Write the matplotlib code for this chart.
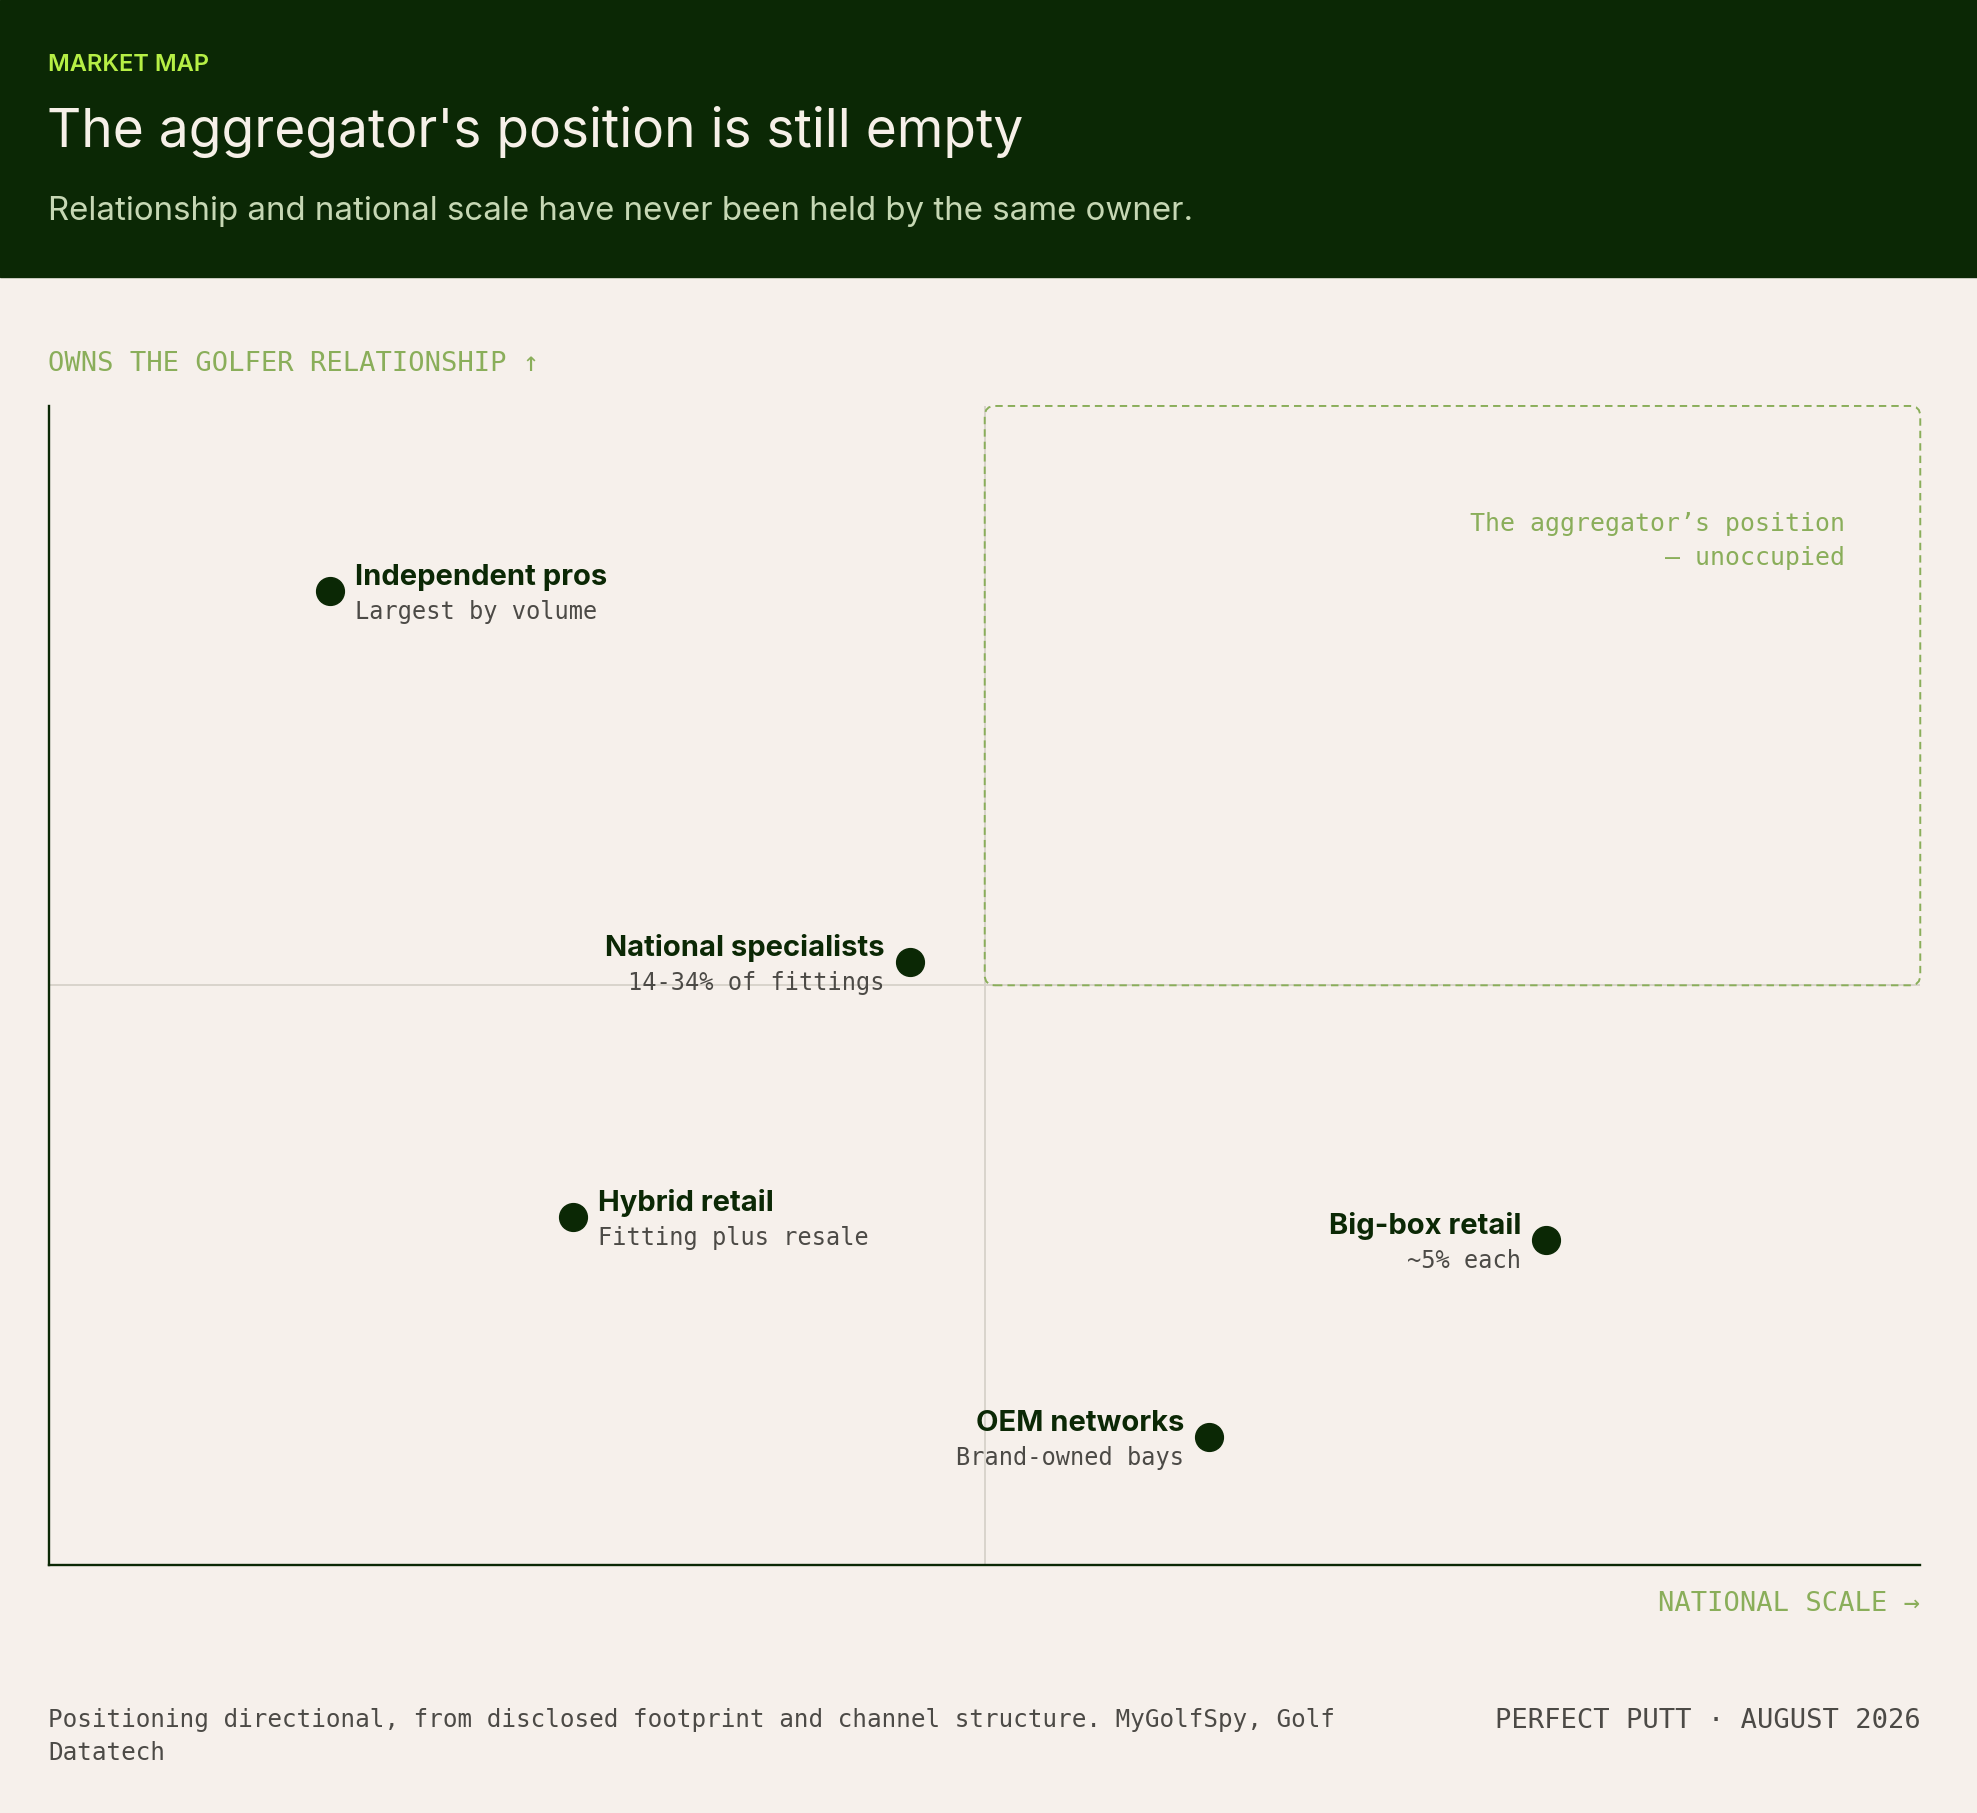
import matplotlib
matplotlib.use("Agg")
import matplotlib.pyplot as plt
from matplotlib.patches import FancyBboxPatch, Rectangle

# market positions (0-100 on both axes)
players = ["Independent pros", "National specialists", "Hybrid retail", "Big-box retail", "OEM networks"]
notes = ["Largest by volume", "14-34% of fittings", "Fitting plus resale", "~5% each", "Brand-owned bays"]
national_scale = [15, 46, 28, 80, 62]
relationship = [84, 52, 30, 28, 11]
label_side = ["right", "left", "right", "left", "left"]

kicker = "MARKET MAP"
title = "The aggregator's position is still empty"
subtitle = "Relationship and national scale have never been held by the same owner."
y_label = "OWNS THE GOLFER RELATIONSHIP ↑"
x_label = "NATIONAL SCALE →"
empty_note = "The aggregator’s position\n— unoccupied"
source = "Positioning directional, from disclosed footprint and channel structure. MyGolfSpy, Golf\nDatatech"
credit = "PERFECT PUTT · AUGUST 2026"

BG = "#f6f0eb"
DARK = "#0b2805"
LIME = "#b6ef45"
CREAM = "#f6f0e8"
SUBTLE = "#c6d7b4"
GREEN = "#8aae5a"
GREY = "#4c4a46"
MID = "#d6d1c9"
SANS = ["Inter", "DejaVu Sans"]
MONO = ["DejaVu Sans Mono"]

fig = plt.figure(figsize=(19.77, 18.13), dpi=100, facecolor=BG)


def fx(px):
    return px / 1568


def fy(py):
    return 1 - py / 1438


# header band
fig.patches.append(Rectangle((0, fy(220)), 1, 220 / 1438, transform=fig.transFigure,
                             color=DARK, zorder=0))
fig.text(fx(38), fy(56.3), kicker, color=LIME, fontsize=17, fontweight="semibold",
         family=SANS, va="baseline")
fig.text(fx(37), fy(116.5), title, color=CREAM, fontsize=38.3, family=SANS, va="baseline")
fig.text(fx(38), fy(174.5), subtitle, color=SUBTLE, fontsize=23.8, family=SANS, va="baseline")

fig.text(fx(38), fy(294), y_label, color=GREEN, fontsize=19.5, family=MONO, va="baseline")
fig.text(fx(1523), fy(1278), x_label, color=GREEN, fontsize=19.5, family=MONO,
         va="baseline", ha="right")
# va=baseline on multi-line text sits on the last line
fig.text(fx(38), fy(1396), source, color=GREY, fontsize=17.5, family=MONO,
         va="baseline", linespacing=1.5)
fig.text(fx(1523), fy(1370.7), credit, color=GREY, fontsize=19.5, family=MONO,
         va="baseline", ha="right")

ax = fig.add_axes([fx(39), fy(1241), fx(1523) - fx(39), (1241 - 322) / 1438])
ax.set_xlim(0, 100)
ax.set_ylim(0, 100)
ax.set_facecolor("none")
for side in ["top", "right"]:
    ax.spines[side].set_visible(False)
for side in ["left", "bottom"]:
    ax.spines[side].set_color(DARK)
    ax.spines[side].set_linewidth(1.7)
ax.set_xticks([])
ax.set_yticks([])

ax.axvline(50, color=MID, lw=1.3, zorder=1)
ax.axhline(50, color=MID, lw=1.3, zorder=1)

box = FancyBboxPatch((50, 50), 50, 50, boxstyle="round,pad=0,rounding_size=0.55",
                     mutation_aspect=1.6, fill=False, ec=GREEN, lw=1.4,
                     ls=(0, (3.8, 2.6)), clip_on=False, zorder=2)
ax.add_patch(box)
ax.text(96, 86.3, empty_note, color=GREEN, fontsize=17.9, family=MONO,
        ha="right", va="baseline", multialignment="right", linespacing=1.5)

ax.scatter(national_scale, relationship, s=400, color=DARK, zorder=4, clip_on=False)

for name, note, x, y, side in zip(players, notes, national_scale, relationship, label_side):
    dx = 18 if side == "right" else -18
    ha = "left" if side == "right" else "right"
    ax.annotate(name, (x, y), xytext=(dx, 4.5), textcoords="offset points",
                ha=ha, va="baseline", fontsize=21, fontweight="bold",
                family=SANS, color=DARK)
    ax.annotate(note, (x, y), xytext=(dx, -20), textcoords="offset points",
                ha=ha, va="baseline", fontsize=17, family=MONO, color=GREY)

fig.savefig("out.png", dpi=100, facecolor=BG)
